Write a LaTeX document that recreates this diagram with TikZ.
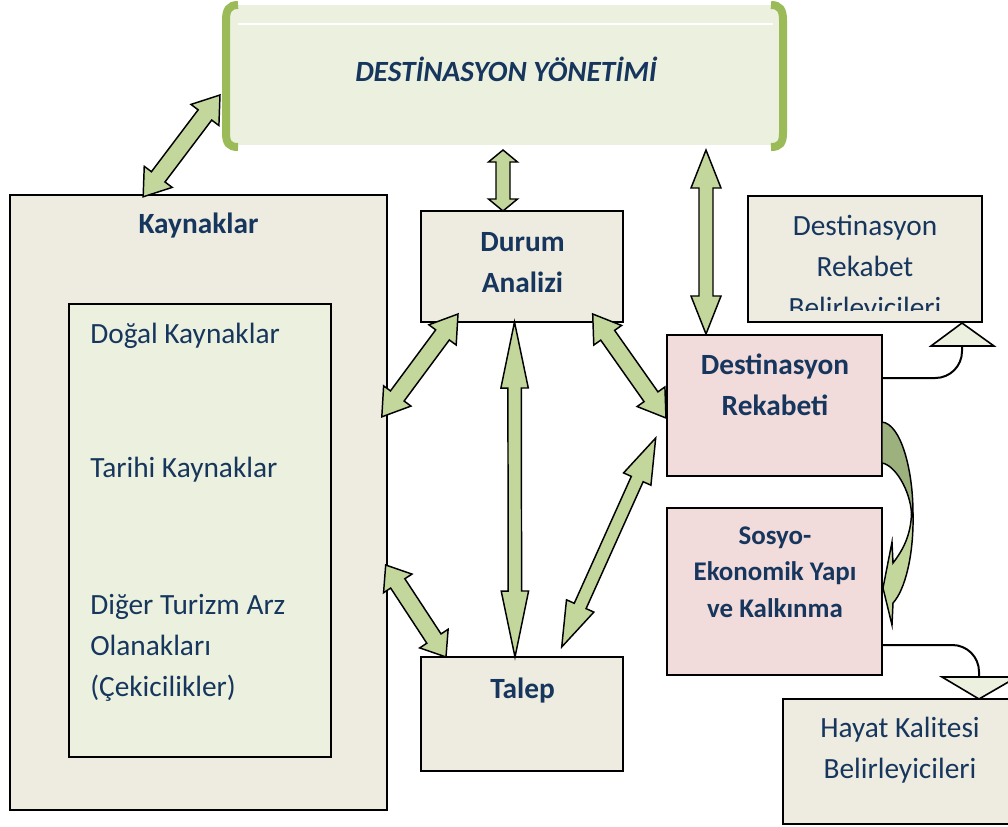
\documentclass[tikz,border=0pt]{standalone}
\usepackage{fontspec}
\setmainfont{Carlito}
\usetikzlibrary{fit,calc}
\definecolor{txt}{HTML}{17365D}
\definecolor{beige}{HTML}{EEECE1}
\definecolor{lgreen}{HTML}{EBF1DE}
\definecolor{pinkf}{HTML}{F2DCDB}
\definecolor{agreen}{HTML}{C3D69B}
\definecolor{dgreen}{HTML}{9CB17E}
\definecolor{bgreen}{HTML}{9BBB59}
\newcommand{\mainfs}{\fontsize{22}{30.75}\selectfont}
\newcommand{\smallfs}{\fontsize{20.2}{27.5}\selectfont}
\newcommand{\blockarrow}[5]{%
 \path let \p1=(#1), \p2=(#2), \n1={atan2(\y2-\y1,\x2-\x1)}, \n2={veclen(\x2-\x1,\y2-\y1)} in
   \pgfextra{\xdef\baang{\n1}\xdef\balen{\n2}\xdef\bax{\x1}\xdef\bay{\y1}};
 \begin{scope}[shift={(\bax,\bay)}, rotate=\baang]
 \draw[barrow] (0pt,0pt) -- ({#5*0.75pt},{#4*0.75pt}) -- ({#5*0.75pt},{#3*0.75pt})
   -- ({\balen*1pt-#5*0.75pt},{#3*0.75pt}) -- ({\balen*1pt-#5*0.75pt},{#4*0.75pt})
   -- ({\balen*1pt},0pt) -- ({\balen*1pt-#5*0.75pt},{-#4*0.75pt})
   -- ({\balen*1pt-#5*0.75pt},{-#3*0.75pt}) -- ({#5*0.75pt},{-#3*0.75pt})
   -- ({#5*0.75pt},{-#4*0.75pt}) -- cycle;
 \end{scope}}
\begin{document}
\begin{tikzpicture}[x=0.75pt, y=-0.75pt,
  box/.style={draw=black, line width=1.3pt, inner sep=0pt, rectangle},
  lbl/.style={text=txt, font=\mainfs, anchor=base, inner sep=0pt},
  blbl/.style={lbl, font=\mainfs\bfseries},
  barrow/.style={draw=black, fill=agreen, line width=1.1pt, line join=miter},
  conn/.style={draw=black, line width=1.5pt},
  tri/.style={draw=black, fill=lgreen, line width=1.2pt, line join=miter}]
\useasboundingbox (0,0) rectangle (1008,826);
\fill[white] (0,0) rectangle (1008,826);

% top management box
\node[inner sep=0pt, fill=lgreen, fit={(230,5) (781,145)}] (top) {};
\draw[white, line width=1.5pt] (238,24) -- (773,24);
\draw[bgreen, line width=6pt] (238,5) .. controls (229,5) and (226,10) .. (226,20) -- (226,133) .. controls (226,143) and (229,147) .. (238,147);
\draw[bgreen, line width=6pt] (771,5) .. controls (780,5) and (783,10) .. (783,20) -- (783,133) .. controls (783,143) and (780,147) .. (771,147);
\node[lbl, font=\mainfs\bfseries\itshape] (title) at (506,81) {DESTİNASYON YÖNETİMİ};

% boxes
\node[box, fill=beige, fit={(10,195) (387,810)}] (kay) {};
\node[box, fill=lgreen, fit={(69,304) (331,757)}] (kin) {};
\node[box, fill=beige, fit={(421,211) (623,322)}] (durum) {};
\node[box, fill=beige, fit={(421,657) (623,771)}] (talep) {};
\node[box, fill=pinkf, fit={(667,335) (882,476)}] (rek) {};
\node[box, fill=pinkf, fit={(667,508) (882,675)}] (sos) {};
\node[box, fill=beige, fit={(748,196) (982,322)}] (drb) {};
\node[box, fill=beige, fit={(783,699) (1013,824)}] (hay) {};

% labels
\node[blbl] (kayT) at (198.5,233) {Kaynaklar};
\node[lbl, anchor=base west] (dogal) at (90,343) {Doğal Kaynaklar};
\node[lbl, anchor=base west] (tarihi) at (90,477) {Tarihi Kaynaklar};
\node[lbl, anchor=base west, align=flush left, text width=230pt] (diger) at (90,614) {Diğer Turizm Arz\\Olanakları\\(Çekicilikler)};
\node[blbl, align=flush center, text width=140pt] (durumT) at (522.5,251) {Durum\\Analizi};
\node[blbl] (talepT) at (522.5,698) {Talep};
\node[blbl, align=flush center, text width=150pt] (rekT) at (775,374) {Destinasyon\\Rekabeti};
\node[lbl, font=\smallfs\bfseries, align=flush center, text width=150pt] (sosT) at (775,544) {Sosyo-\\Ekonomik Yapı\\ve Kalkınma};
\begin{scope}
\clip (748,196) rectangle (982,310);
\node[lbl, align=flush center, text width=170pt] (drbT) at (865,235) {Destinasyon\\Rekabet\\Belirleyicileri};
\end{scope}
\node[lbl, align=flush center, text width=170pt] (hayT) at (900,737) {Hayat Kalitesi\\Belirleyicileri};

% side connectors with triangles
\coordinate (c1) at (882,378);
\coordinate (t1) at (962,346);
\draw[conn, rounded corners=20pt] (c1) -| (t1);
\draw[tri] (962,323) -- (994,346) -- (931,346) -- cycle;
\coordinate (c2) at (882,645);
\coordinate (t2) at (979,677);
\draw[conn, rounded corners=20pt] (c2) -| (t2);
\draw[tri] (942,677) -- (1017,677) -- (979,699) -- cycle;

% curved arrow rek -> sos
\draw[fill=dgreen, line width=1.1pt, line join=miter] (882,422) .. controls (901,424) and (913,470) .. (913,513) -- (911.5,513) .. controls (910,490) and (895,465) .. (882,463) -- cycle;
\draw[fill=agreen, line width=1.1pt, line join=miter] (913,513) .. controls (914,555) and (905,590) .. (893,603) -- (892,625) -- (883,588) -- (892,542) -- (893,563) .. controls (903,550) and (911,535) .. (911.5,513) -- cycle;

% block arrows
\coordinate (a1s) at (220,95);   \coordinate (a1e) at (143,197);
\coordinate (a2s) at (503,150);  \coordinate (a2e) at (503,211);
\coordinate (a3s) at (706,150);  \coordinate (a3e) at (706,334);
\coordinate (a4s) at (514.5,322);\coordinate (a4e) at (515,657);
\coordinate (a5s) at (458,314);  \coordinate (a5e) at (381.7,417);
\coordinate (a6s) at (592.7,314);\coordinate (a6e) at (666,418);
\coordinate (a7s) at (385.7,565);\coordinate (a7e) at (446,657);
\coordinate (a8s) at (655.7,438);\coordinate (a8e) at (561.7,647);
\blockarrow{a1s}{a1e}{8.5}{17.5}{25}
\blockarrow{a2s}{a2e}{7}{14.5}{12}
\blockarrow{a3s}{a3e}{7}{15}{38}
\blockarrow{a4s}{a4e}{6.7}{13.7}{66}
\blockarrow{a5s}{a5e}{8.5}{17}{26}
\blockarrow{a6s}{a6e}{8.5}{17}{26}
\blockarrow{a7s}{a7e}{8.5}{17}{22}
\blockarrow{a8s}{a8e}{6.5}{15}{45}
\end{tikzpicture}
\end{document}
